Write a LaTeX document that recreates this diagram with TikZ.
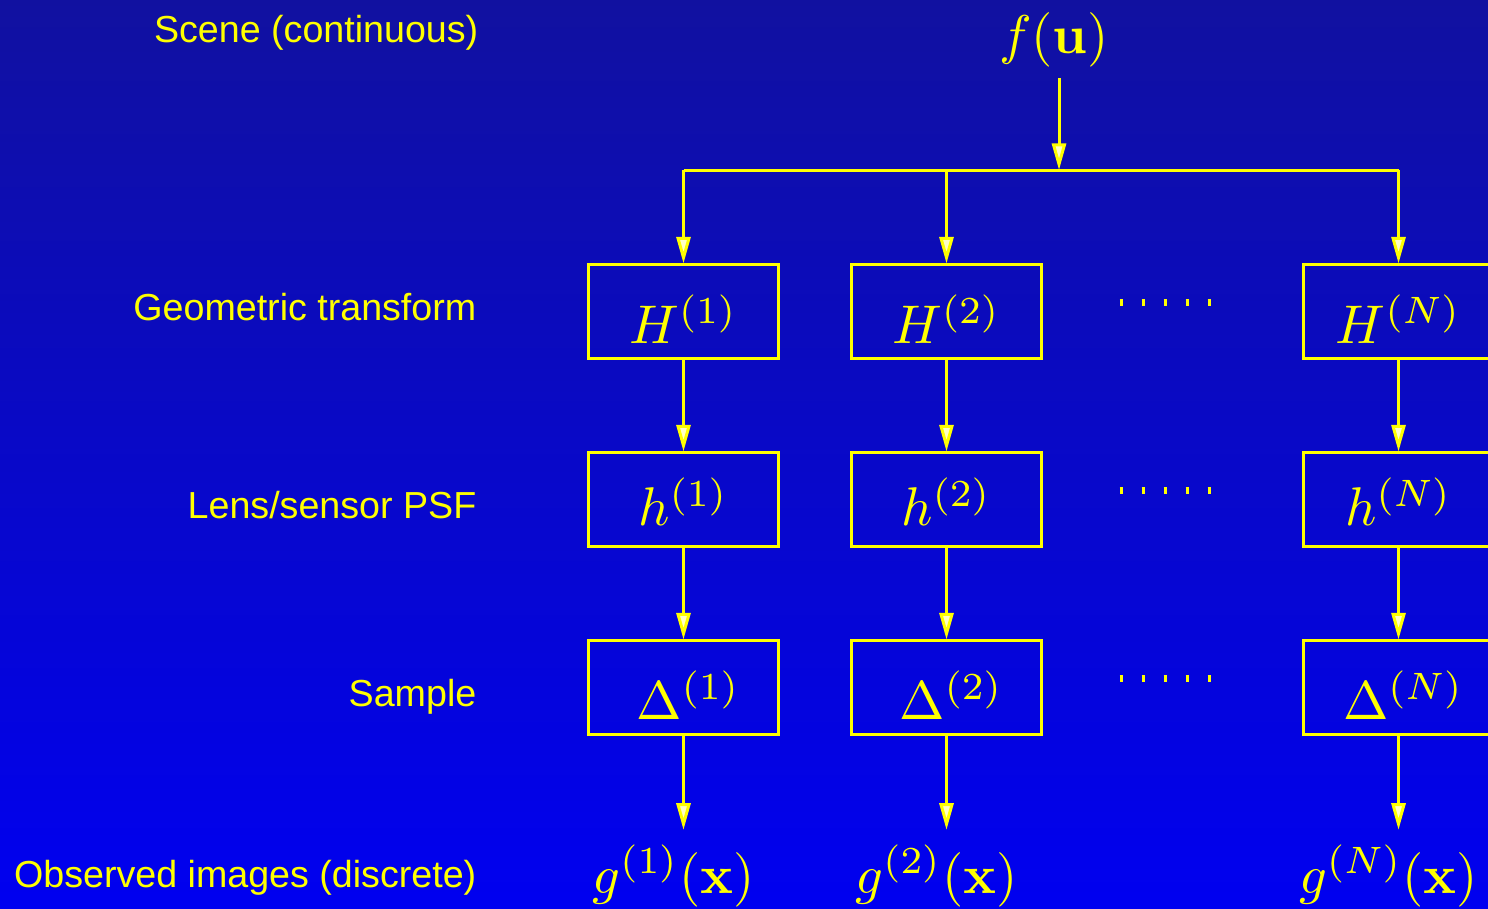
\RequirePackage{fix-cm}
\documentclass[tikz,border=0pt]{standalone}
\usepackage{graphicx}
\usepackage{fontspec}
\setmainfont{Latin Modern Roman}
\newfontfamily\labfont{Liberation Sans}
\usetikzlibrary{arrows.meta}
\definecolor{bgtop}{RGB}{17,17,160}
\definecolor{bgbot}{RGB}{0,0,240}
\definecolor{ylw}{RGB}{255,255,0}
\newcommand{\mybigmath}[1]{\scalebox{1.55}{$#1$}}
\begin{document}
\begin{tikzpicture}[x=0.01cm,y=-0.01cm,
  lab/.style={anchor=base east,inner sep=0pt,text=ylw,font=\labfont\fontsize{10.7}{12}\selectfont},
  mth/.style={text=ylw,font=\fontsize{10}{12}\selectfont},
  opbox/.style={mth,draw=ylw,line width=0.85pt,minimum width=1.89cm,minimum height=0.93cm,inner sep=0pt,text height=18pt,text depth=0pt},
  outnode/.style={mth,anchor=base,inner sep=4pt},
  conn/.style={draw=ylw,line width=0.85pt},
  arr/.style={conn,-{Triangle[length=7.6pt,width=4pt,fill=ylw!22!white]}},
  dotrow/.style={draw=ylw,line width=0.07cm,dash pattern=on 0.03cm off 0.19cm}
]
\useasboundingbox (0,0) rectangle (1488,908);
\shade[top color=bgtop,bottom color=bgbot] (0,0) rectangle (1488,908);

% left labels
\node[lab] (lscene) at (479,42) {Scene (continuous)};
\node[lab] (lgeo) at (477,320) {Geometric transform};
\node[lab] (llens) at (477,518) {Lens/sensor PSF};
\node[lab] (lsamp) at (477,706) {Sample};
\node[lab] (lobs) at (477,887) {Observed images (discrete)};

% scene
\node[mth,anchor=base,inner sep=3pt] (f) at (1054,53) {\mybigmath{f(\mathbf{u})}};
\coordinate (J) at (1059,170);

% boxes
\node[opbox] (H1) at (683.5,311.5) {\mybigmath{H^{(1)}}};
\node[opbox] (H2) at (946.5,311.5) {\mybigmath{H^{(2)}}};
\node[opbox] (HN) at (1398.5,311.5) {\mybigmath{H^{(N)}}};
\node[opbox,text depth=3pt] (h1) at (683.5,499.5) {\mybigmath{h^{(1)}}};
\node[opbox,text depth=3pt] (h2) at (946.5,499.5) {\mybigmath{h^{(2)}}};
\node[opbox,text depth=3pt] (hN) at (1398.5,499.5) {\mybigmath{h^{(N)}}};
\node[opbox,text depth=-0.6pt] (D1) at (683.5,687.5) {\hspace*{2.8pt}\mybigmath{\Delta^{(1)}}};
\node[opbox,text depth=-0.6pt] (D2) at (946.5,687.5) {\hspace*{2.8pt}\mybigmath{\Delta^{(2)}}};
\node[opbox,text depth=-0.6pt] (DN) at (1398.5,687.5) {\hspace*{2.8pt}\mybigmath{\Delta^{(N)}}};

% outputs
\node[outnode] (g1) at (673.5,893) {\mybigmath{g^{(1)}(\mathbf{x})}};
\node[outnode] (g2) at (936.5,893) {\mybigmath{g^{(2)}(\mathbf{x})}};
\node[outnode] (gN) at (1388.5,893) {\mybigmath{g^{(N)}(\mathbf{x})}};

% connectors
\draw[arr] (f.south -| J) -- (J);
\draw[conn] (H1.north |- J) -- (HN.north |- J);
\foreach \c in {H1,H2,HN} \draw[arr] (\c.north |- J) -- (\c.north);
\draw[arr] (H1) -- (h1);
\draw[arr] (H2) -- (h2);
\draw[arr] (HN) -- (hN);
\draw[arr] (h1) -- (D1);
\draw[arr] (h2) -- (D2);
\draw[arr] (hN) -- (DN);
\draw[arr] (D1.south) -- (D1.south |- g1.north);
\draw[arr] (D2.south) -- (D2.south |- g2.north);
\draw[arr] (DN.south) -- (DN.south |- gN.north);

% ellipsis dots
\foreach \y in {302,490,678} \draw[dotrow] (1119.5,\y) -- (1212,\y);
\end{tikzpicture}
\end{document}
